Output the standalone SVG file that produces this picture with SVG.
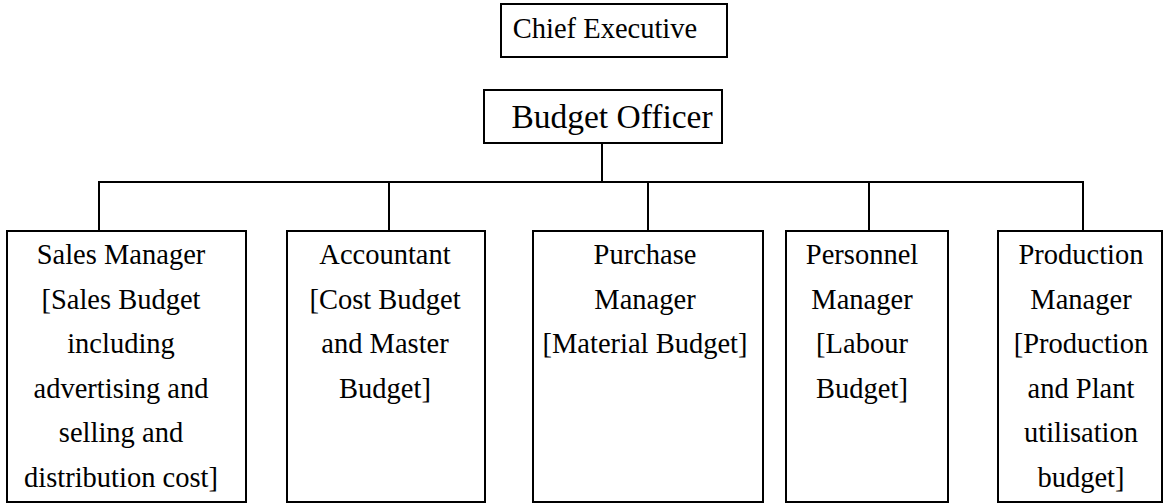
<svg xmlns="http://www.w3.org/2000/svg" width="1165" height="504" viewBox="0 0 1165 504">
<style>
rect{fill:#fff;stroke:#000;stroke-width:2}
.c line{stroke:#000;stroke-width:2}
text{font-family:"Liberation Serif","Times New Roman",serif;font-size:28.5px;fill:#000;text-anchor:middle}
</style>
<rect x="0" y="0" width="1165" height="504" style="stroke:none"/>
<g class="c" id="connectors">
<line x1="602" y1="143" x2="602" y2="182"/>
<line x1="98" y1="182" x2="1084" y2="182"/>
<line x1="99" y1="182" x2="99" y2="231"/>
<line x1="389" y1="182" x2="389" y2="231"/>
<line x1="648" y1="182" x2="648" y2="231"/>
<line x1="869" y1="182" x2="869" y2="231"/>
<line x1="1083" y1="182" x2="1083" y2="231"/>
</g>
<g id="chief"><rect x="501" y="4" width="226" height="53"/><text x="605" y="38">Chief Executive</text></g>
<g id="budget"><rect x="484" y="90" width="238" height="53"/><text x="612" y="128" style="font-size:33.5px">Budget Officer</text></g>
<g id="sales"><rect x="7" y="231" width="239" height="271"/>
<text x="121" y="264">Sales Manager</text>
<text x="121" y="308.6">[Sales Budget</text>
<text x="121" y="353.2">including</text>
<text x="121" y="397.8">advertising and</text>
<text x="121" y="442.4">selling and</text>
<text x="121" y="487">distribution cost]</text></g>
<g id="accountant"><rect x="287" y="231" width="198" height="271"/>
<text x="385" y="264">Accountant</text>
<text x="385" y="308.6">[Cost Budget</text>
<text x="385" y="353.2">and Master</text>
<text x="385" y="397.8">Budget]</text></g>
<g id="purchase"><rect x="533" y="231" width="230" height="271"/>
<text x="645" y="264">Purchase</text>
<text x="645" y="308.6">Manager</text>
<text x="645" y="353.2">[Material Budget]</text></g>
<g id="personnel"><rect x="786" y="231" width="162" height="271"/>
<text x="862" y="264">Personnel</text>
<text x="862" y="308.6">Manager</text>
<text x="862" y="353.2">[Labour</text>
<text x="862" y="397.8">Budget]</text></g>
<g id="production"><rect x="998" y="231" width="164" height="271"/>
<text x="1081" y="264">Production</text>
<text x="1081" y="308.6">Manager</text>
<text x="1081" y="353.2">[Production</text>
<text x="1081" y="397.8">and Plant</text>
<text x="1081" y="442.4">utilisation</text>
<text x="1081" y="487">budget]</text></g>
</svg>
